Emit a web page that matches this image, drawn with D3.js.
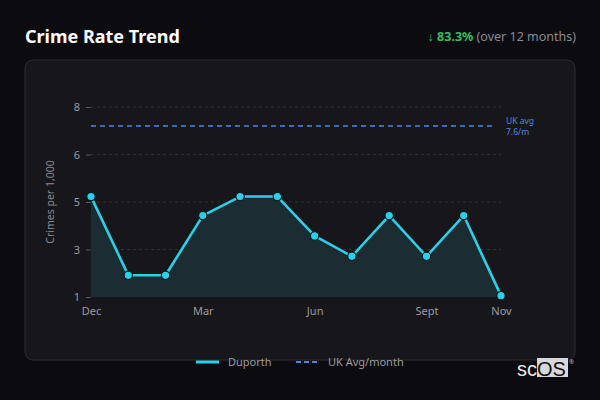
<!DOCTYPE html>
<html lang="en">
<head>
<meta charset="utf-8">
<title>Crime Rate Trend</title>
<script src="https://cdn.jsdelivr.net/npm/d3@7"></script>
<style>
  html, body { margin: 0; padding: 0; background: #0c0c10; }
  svg { display: block; font-family: "Noto Sans", "Open Sans", sans-serif; }
</style>
</head>
<body>
<script>
var w = 600, h = 400;

// data
var months = ["Dec", "Jan", "Feb", "Mar", "Apr", "May", "Jun", "Jul", "Aug", "Sept", "Oct", "Nov"];
var rates = [4.7, 1.8, 1.8, 4.0, 4.7, 4.7, 3.25, 2.5, 4.0, 2.5, 4.0, 1.05];
var ukAvg = 7.3;
var xTickLabels = ["Dec", "Mar", "Jun", "Sept", "Nov"];
var yDomain = [1, 8];

var margin = {left: 91, right: 99, top: 107, bottom: 103};

var xScale = d3.scalePoint()
  .domain(months)
  .range([margin.left, w - margin.right]);

var yScale = d3.scaleLinear()
  .domain(yDomain)
  .range([h - margin.bottom, margin.top]);

var svg = d3.select("body").append("svg")
  .attr("width", w)
  .attr("height", h);

// panel
svg.append("rect")
  .attr("x", 25).attr("y", 60)
  .attr("width", 550).attr("height", 300)
  .attr("rx", 8)
  .attr("fill", "#17171b")
  .attr("stroke", "#2c2c31")
  .attr("stroke-width", 1);

// title
svg.append("text")
  .attr("x", 25).attr("y", 43)
  .attr("fill", "#ffffff")
  .attr("font-size", "18px")
  .attr("font-weight", "bold")
  .text("Crime Rate Trend");

var change = svg.append("text")
  .attr("x", 576).attr("y", 41)
  .attr("text-anchor", "end")
  .attr("font-size", "12.5px");
change.append("tspan")
  .attr("fill", "#2fbf5f")
  .attr("font-weight", "bold")
  .text("\u2193 83.3%");
change.append("tspan")
  .attr("fill", "#8a8a90")
  .text(" (over 12 months)");

// y axis + grid
var yTicks = d3.range(5).map(function (i) { return yDomain[0] + i * (yDomain[1] - yDomain[0]) / 4; });

var yAxis = d3.axisLeft(yScale)
  .tickValues(yTicks)
  .tickFormat(d3.format(".0f"))
  .tickSize(5)
  .tickPadding(6);

var gy = svg.append("g")
  .attr("transform", "translate(" + margin.left + ",0)")
  .call(yAxis);
gy.select(".domain").remove();
gy.selectAll(".tick line").attr("stroke", "#55555c");
gy.selectAll(".tick text")
  .attr("fill", "#9a9aa0")
  .attr("font-size", "11px")
  .attr("font-family", "Noto Sans, sans-serif");

svg.append("g")
  .selectAll("line")
  .data(yTicks.slice(1))
  .enter()
  .append("line")
  .attr("x1", margin.left)
  .attr("x2", w - margin.right)
  .attr("y1", function (d) { return yScale(d); })
  .attr("y2", function (d) { return yScale(d); })
  .attr("stroke", "#2e2e34")
  .attr("stroke-dasharray", "3,3");

// x axis labels
var xAxis = d3.axisBottom(xScale)
  .tickValues(xTickLabels)
  .tickSize(0)
  .tickPadding(10);

var gx = svg.append("g")
  .attr("transform", "translate(0," + (h - margin.bottom) + ")")
  .call(xAxis);
gx.select(".domain").remove();
gx.selectAll(".tick text")
  .attr("fill", "#9a9aa0")
  .attr("font-size", "11px")
  .attr("font-family", "Noto Sans, sans-serif");

// y label
svg.append("text")
  .attr("transform", "translate(54,202) rotate(-90)")
  .attr("text-anchor", "middle")
  .attr("fill", "#8a8a90")
  .attr("font-size", "10.5px")
  .text("Crimes per 1,000");

// area
var area = d3.area()
  .x(function (d, i) { return xScale(months[i]); })
  .y0(yScale(yDomain[0]))
  .y1(function (d) { return yScale(d); });

svg.append("path")
  .datum(rates)
  .attr("d", area)
  .attr("fill", "#1b2c33");

// UK avg line
svg.append("line")
  .attr("x1", margin.left)
  .attr("x2", w - margin.right - 6)
  .attr("y1", yScale(ukAvg))
  .attr("y2", yScale(ukAvg))
  .attr("stroke", "#4f86e0")
  .attr("stroke-width", 1.6)
  .attr("stroke-dasharray", "5,4");

svg.append("text")
  .attr("x", 506)
  .attr("y", yScale(ukAvg) - 2)
  .attr("fill", "#4f86e0")
  .attr("font-size", "8.5px")
  .text("UK avg");
svg.append("text")
  .attr("x", 506)
  .attr("y", yScale(ukAvg) + 9)
  .attr("fill", "#4f86e0")
  .attr("font-size", "8.5px")
  .text("7.6/m");

// line
var line = d3.line()
  .x(function (d, i) { return xScale(months[i]); })
  .y(function (d) { return yScale(d); });

svg.append("path")
  .datum(rates)
  .attr("d", line)
  .attr("fill", "none")
  .attr("stroke", "#2ad0e8")
  .attr("stroke-width", 2.6)
  .attr("stroke-linejoin", "round");

svg.selectAll("circle.pt")
  .data(rates)
  .enter()
  .append("circle")
  .attr("class", "pt")
  .attr("cx", function (d, i) { return xScale(months[i]); })
  .attr("cy", function (d) { return yScale(d); })
  .attr("r", 4.2)
  .attr("fill", "#2ad0e8")
  .attr("stroke", "#0f1a1f")
  .attr("stroke-width", 1.2);

// legend
var legend = svg.append("g");
legend.append("line")
  .attr("x1", 196).attr("x2", 219)
  .attr("y1", 362).attr("y2", 362)
  .attr("stroke", "#2ad0e8")
  .attr("stroke-width", 3);
legend.append("text")
  .attr("x", 228).attr("y", 366)
  .attr("fill", "#9a9aa0")
  .attr("font-size", "11px")
  .text("Duporth");
legend.append("line")
  .attr("x1", 296).attr("x2", 320)
  .attr("y1", 362).attr("y2", 362)
  .attr("stroke", "#4f86e0")
  .attr("stroke-width", 1.8)
  .attr("stroke-dasharray", "5,3");
legend.append("text")
  .attr("x", 328).attr("y", 366)
  .attr("fill", "#9a9aa0")
  .attr("font-size", "11px")
  .text("UK Avg/month");

// logo
var logo = svg.append("g");
logo.append("rect")
  .attr("x", 537).attr("y", 358)
  .attr("width", 31).attr("height", 19)
  .attr("fill", "#d8d8dc");
logo.append("text")
  .attr("x", 517).attr("y", 376)
  .attr("fill", "#e8e8ec")
  .attr("font-size", "20px")
  .attr("font-family", "Liberation Sans, Arial, sans-serif")
  .text("sc");
logo.append("text")
  .attr("x", 537).attr("y", 376)
  .attr("fill", "#111114")
  .attr("font-size", "20px")
  .attr("font-family", "Liberation Sans, Arial, sans-serif")
  .text("OS");
logo.append("text")
  .attr("x", 569).attr("y", 364)
  .attr("fill", "#c0c0c4")
  .attr("font-size", "6px")
  .text("\u00ae");
</script>
</body>
</html>
